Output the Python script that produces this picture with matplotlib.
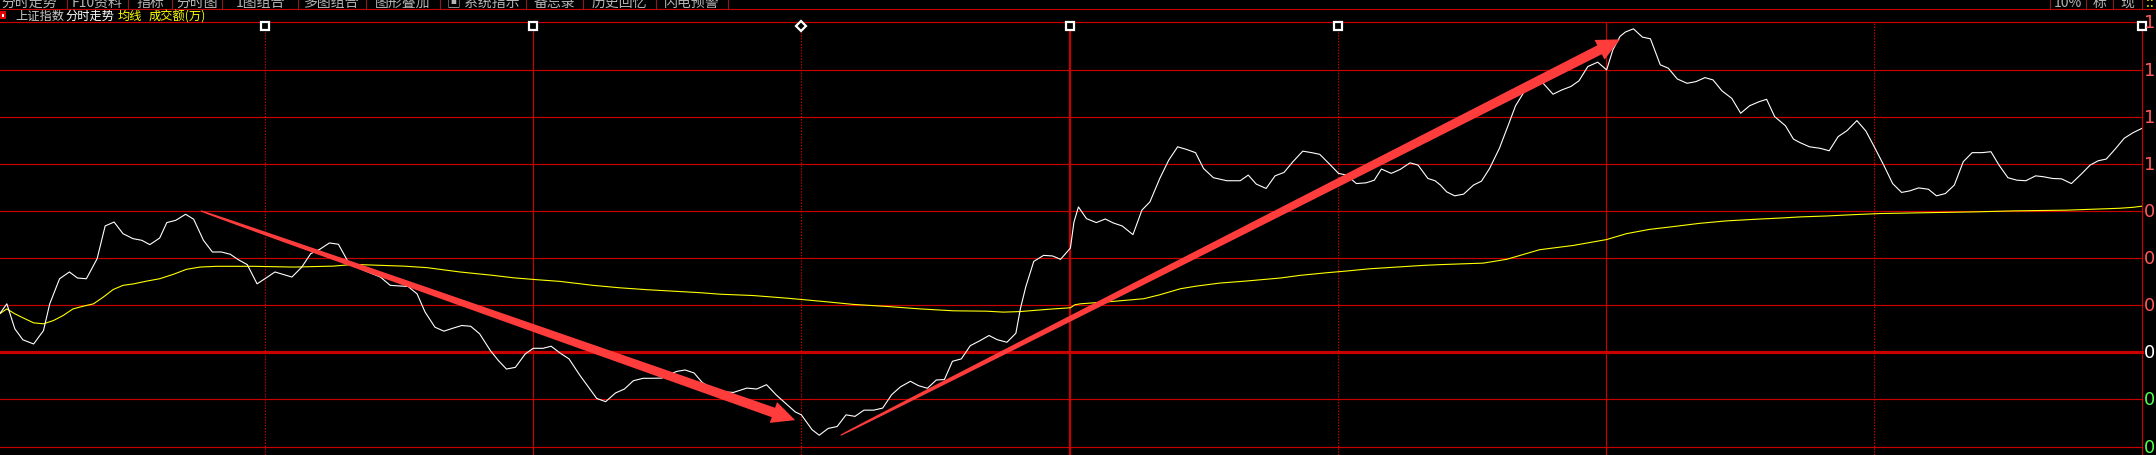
import numpy as np
import matplotlib
matplotlib.use("Agg")
import matplotlib.pyplot as plt
from matplotlib.patches import Polygon, Rectangle
from matplotlib.transforms import IdentityTransform

plt.rcParams['font.family'] = ['Noto Sans CJK SC', 'DejaVu Sans']

# 上证指数 intraday: minutes after 9:30 (lunch break removed) and % change
price_min = [0.3, 1.1, 2.0, 2.9, 4.1, 5.2, 5.9, 7.0, 8.1, 9.0, 10.0, 11.2, 12.1, 13.1, 14.1, 15.2, 16.2, 17.1, 18.2, 19.0,
             20.0, 21.1, 22.0, 23.1, 24.1, 25.1, 26.1, 27.0, 28.0, 29.1, 30.1, 31.1, 32.0, 33.0, 34.1, 35.1, 36.1, 37.2, 38.2, 39.3,
             40.6, 41.7, 42.9, 44.0, 46.0, 47.0, 47.9, 49.0, 50.0, 51.1, 52.0, 53.0, 54.0, 55.2, 56.1, 57.0, 58.0, 59.1, 60.0, 61.1,
             62.0, 63.0, 64.0, 65.2, 66.2, 67.1, 68.1, 69.2, 70.2, 71.2, 72.3, 73.3, 74.4, 75.3, 76.1, 77.0, 78.0, 78.9, 79.8,
             80.9, 82.4, 83.9, 85.0, 86.1, 87.2, 88.4, 89.3, 90.0, 91.2, 92.0, 93.0, 94.0, 95.0, 96.0, 97.0, 98.1, 99.1, 100.1, 101.1,
             102.2, 103.1, 104.1, 105.1, 106.0, 106.9, 107.9, 108.9, 110.0, 111.0, 111.9, 113.0, 114.0, 114.5, 115.1, 116.0, 117.1,
             118.1, 119.0, 120.1, 120.5, 121.0,
             121.9, 123.0, 124.0, 124.9, 125.9, 127.1, 128.1, 129.0, 130.1, 131.1, 132.1, 133.1, 134.1, 135.0, 136.1, 137.6, 139.1,
             140.0, 140.9, 142.0, 143.0, 144.0, 145.0, 146.1, 147.1, 148.0, 149.1, 150.1, 151.0, 152.1, 153.2, 154.1, 154.9, 156.0,
             157.0, 158.1, 159.0, 160.1, 160.9, 161.5,
             162.2, 163.1, 164.1, 165.2, 166.1, 167.0, 168.1, 169.1, 169.9, 171.0, 171.9, 173.0, 174.1, 175.1, 176.1, 177.0, 178.0,
             179.1, 180.1, 180.8, 181.6, 182.2, 183.1, 184.1, 185.0, 186.1, 187.0, 188.0, 189.1, 190.1, 191.1, 192.0, 193.0, 194.1,
             195.1, 196.1, 197.2, 198.0, 198.9, 200.1, 201.0, 201.7,
             202.8, 204.0, 205.0, 206.0, 207.0, 208.1, 209.1, 210.0, 211.1, 212.1, 213.1, 214.0, 215.0, 216.1, 217.0, 218.0, 219.0,
             220.0, 221.0, 222.1, 223.1, 224.0, 225.0, 226.0, 227.0, 228.1, 229.0, 230.0, 231.0, 232.1, 233.2, 234.2, 235.1, 236.0,
             237.0, 238.0, 239.0, 240.0]
price_pct = [0.204, 0.257, 0.124, 0.066, 0.044, 0.115, 0.257, 0.390, 0.426, 0.394, 0.390, 0.496, 0.670, 0.691, 0.629, 0.603,
             0.594, 0.571, 0.606, 0.688, 0.700, 0.732, 0.706, 0.594, 0.532, 0.532, 0.520, 0.491, 0.465, 0.363, 0.394, 0.426,
             0.413, 0.399, 0.452, 0.523, 0.546, 0.580, 0.573, 0.479, 0.443,
             0.422, 0.399, 0.355, 0.349, 0.310, 0.213, 0.133, 0.112, 0.129, 0.142, 0.138, 0.098, 0.009, -0.044, -0.089, -0.080,
             -0.009, 0.021, 0.021, 0.032, -0.004, -0.035, -0.121, -0.186, -0.245, -0.262, -0.216, -0.195, -0.151, -0.138,
             -0.138, -0.137, -0.115, -0.101, -0.094, -0.110, -0.160, -0.186,
             -0.209, -0.213, -0.190, -0.195, -0.172, -0.227, -0.278, -0.316, -0.332, -0.411, -0.440, -0.404, -0.394, -0.332,
             -0.340, -0.307, -0.307, -0.296, -0.225, -0.183, -0.154, -0.177, -0.191, -0.147, -0.145, -0.048, -0.035, 0.035,
             0.062, 0.089, 0.067, 0.053, 0.101, 0.230, 0.346, 0.482, 0.514, 0.511, 0.493, 0.553, 0.691, 0.771,
             0.709, 0.688, 0.707, 0.686, 0.670, 0.624, 0.754, 0.798, 0.922, 1.019, 1.090, 1.076, 1.059, 0.975, 0.926, 0.910,
             0.910, 0.940, 0.892, 0.869, 0.936, 0.954, 1.011, 1.067, 1.059, 1.050, 0.998, 0.949, 0.940, 0.895, 0.899, 0.913,
             0.972, 0.949, 0.970, 1.005, 0.993, 0.922, 0.910, 0.887,
             0.851, 0.830, 0.839, 0.887, 0.908, 0.975, 1.082, 1.206, 1.307, 1.392, 1.436, 1.427, 1.369, 1.392, 1.410, 1.440,
             1.516, 1.539, 1.498, 1.605, 1.676, 1.699, 1.716, 1.672, 1.663, 1.525, 1.507, 1.450, 1.427, 1.436, 1.457, 1.445,
             1.387, 1.347, 1.268, 1.308, 1.330, 1.342, 1.250, 1.202, 1.131, 1.113,
             1.090, 1.082, 1.069, 1.144, 1.176, 1.229, 1.174, 1.094, 0.993, 0.895, 0.848, 0.856, 0.872, 0.865, 0.830, 0.842,
             0.887, 1.011, 1.059, 1.059, 1.064, 0.993, 0.926, 0.913, 0.910, 0.936, 0.931, 0.922, 0.920, 0.895, 0.945, 0.993,
             1.016, 1.025, 1.078, 1.135, 1.165, 1.188]

# 均线 (average price line)
avg_min = [0.3, 1.1, 2.0, 2.9, 4.1, 5.2, 6.3, 7.4, 8.5, 9.7, 10.8, 11.9, 13.0, 14.1, 15.3, 16.8, 18.2, 19.7, 21.2, 22.7,
           24.6, 28.7, 33.2, 37.6, 39.9, 45.5, 48.1, 51.8, 55.5, 57.8, 60.4, 63.0, 66.7, 69.7, 72.7, 76.1, 78.7, 80.9, 84.6, 88.4,
           92.1, 95.8, 99.6, 103.3, 107.0, 110.7, 112.6, 114.5, 116.3, 118.2, 120.1, 120.6, 121.2, 124.9, 128.3, 130.1, 132.4,
           134.2, 136.8, 139.8, 143.6, 145.8, 148.8, 151.0, 153.6, 156.6, 159.6, 161.5, 166.3, 168.9, 172.6, 176.4, 180.1, 182.3,
           184.9, 187.6, 190.5, 193.5, 196.9, 199.9, 201.7, 204.7, 207.7, 210.7, 216.6, 221.5, 225.6, 231.6, 234.6, 237.5, 239.0, 240.0]
avg_pct = [0.204, 0.230, 0.204, 0.183, 0.156, 0.151, 0.168, 0.195, 0.230, 0.245, 0.257, 0.293, 0.333, 0.355, 0.363, 0.378,
           0.390, 0.413, 0.440, 0.452, 0.456, 0.456, 0.452, 0.457, 0.466, 0.457, 0.449, 0.426, 0.408, 0.395, 0.385, 0.376,
           0.355, 0.342, 0.332, 0.323, 0.316, 0.308, 0.301, 0.287, 0.271, 0.254, 0.243, 0.230, 0.220, 0.218, 0.213, 0.216,
           0.223, 0.230, 0.236, 0.252, 0.257, 0.270, 0.284, 0.305, 0.337, 0.351, 0.367, 0.378, 0.394, 0.408, 0.422, 0.431,
           0.443, 0.452, 0.461, 0.465, 0.473, 0.493, 0.544, 0.567, 0.598, 0.629, 0.652, 0.667, 0.684, 0.697, 0.706, 0.713,
           0.718, 0.723, 0.730, 0.736, 0.741, 0.745, 0.750, 0.754, 0.759, 0.764, 0.769, 0.775]

grid_levels = [-0.5, -0.25, 0.0, 0.25, 0.5, 0.75, 1.0, 1.25, 1.5, 1.75]
time_marks = [30, 60, 90, 120, 150, 180, 210]
top_marks = [30, 60, 90, 120, 150, 240]

# hand drawn arrows: (start, tip) in (minute, %)
arrow_down = ((22.8, 0.75), (89.3, -0.36))
arrow_up = ((94.4, -0.44), (181.6, 1.66))

tool_labels = ["分时走势", "F10资料", "指标", "分时图", "1图组合", "多图组合", "图形叠加", "▣ 系统指示", "备忘录", "历史回忆", "闪电预警"]
tool_edges = [-8, 67, 128, 172, 222, 298, 366, 440, 526, 583, 656, 728]
right_labels = ["10%", "标", "现"]
right_edges = [2050, 2086, 2113, 2142]

RED = '#c80000'
W, H = 2156, 456

fig = plt.figure(figsize=(W / 100, H / 100), dpi=100, facecolor='black')


def fx(x):
    return x / W


def fy(y):
    return 1 - y / H


left_px, right_px, top_px = -3, 2142, 23.4
ax = fig.add_axes([fx(left_px), 0, (right_px - left_px) / W, (H - top_px) / H])
ax.set_facecolor('black')
ax.set_xlim(0, 240)
ax.set_ylim(-0.545, 1.75)
ax.set_axis_off()

for lv in grid_levels:
    ax.axhline(lv, color=RED, lw=2.3 if lv == 0 else 0.85, clip_on=False, zorder=1)

for m in time_marks:
    if m == 120:
        ax.axvline(m, color=RED, lw=1.6, zorder=1)
    elif m % 60 == 0:
        ax.axvline(m, color=RED, lw=0.85, zorder=1)
    else:
        ax.axvline(m, color=RED, lw=0.8, ls=(0, (1.3, 1.3)), zorder=1)
ax.axvline(240, color=RED, lw=0.85, clip_on=False, zorder=1)

for m in top_marks:
    ax.plot([m], [1.732], marker='D' if m == 90 else 's', ms=5.5, mfc='black', mec='white', mew=1.6,
            clip_on=False, zorder=6)

ax.plot(avg_min, avg_pct, color='#ffff00', lw=0.8, zorder=3)
ax.plot(price_min, price_pct, color='white', lw=0.8, zorder=4)


def taper_arrow(start, tip, w0=1.2, w1=10.0, head_len=23, head_half=11, color='#ff3c3c'):
    p0 = ax.transData.transform(start)
    p1 = ax.transData.transform(tip)
    d = p1 - p0
    L = np.hypot(*d)
    u = d / L
    n = np.array([-u[1], u[0]])
    base = p1 - u * head_len
    s = np.linspace(0, 1, 80)
    w = w0 + (w1 - w0) * s ** 0.6
    centers = p0 + np.outer(s * (L - head_len), u)
    lft = centers + np.outer(w / 2, n)
    rgt = centers - np.outer(w / 2, n)
    pts = np.vstack([lft, base + n * head_half, p1, base - n * head_half, rgt[::-1]])
    ax.add_patch(Polygon(pts, closed=True, transform=IdentityTransform(), facecolor=color,
                         edgecolor='none', zorder=5))


taper_arrow(*arrow_down)
taper_arrow(*arrow_up)

# right price scale (cut at the picture edge, as in the screenshot)
for lv in grid_levels:
    if lv > 0:
        col = '#ff5a5a'
    elif lv == 0:
        col = 'white'
    else:
        col = '#50ff50'
    ypx = top_px + (1.75 - lv) * (H - top_px) / (1.75 + 0.545)
    fig.text(fx(2143.5), fy(ypx), f"{abs(lv):.2f}%", color=col, fontsize=13, va='center', ha='left',
             family=['Liberation Sans Narrow', 'DejaVu Sans'])

# toolbar (top half cut off)
fig.add_artist(plt.Line2D([0, 1], [fy(10), fy(10)], color=RED, lw=0.8, transform=fig.transFigure))
for lab, a, b in zip(tool_labels, tool_edges[:-1], tool_edges[1:]):
    fig.text(fx((a + b) / 2), fy(3), lab, color='#b4b4b4', fontsize=10, ha='center', va='center')
    fig.add_artist(plt.Line2D([fx(b), fx(b)], [fy(0), fy(10)], color='#8c1c1c', lw=0.8, transform=fig.transFigure))
for lab, a, b in zip(right_labels, right_edges[:-1], right_edges[1:]):
    fig.text(fx((a + b) / 2), fy(3), lab, color='#b4b4b4', fontsize=10, ha='center', va='center')
for e in right_edges:
    fig.add_artist(plt.Line2D([fx(e), fx(e)], [fy(0), fy(10)], color='#8c1c1c', lw=0.8, transform=fig.transFigure))
fig.text(fx(2146), fy(3), "::", color='#ffff00', fontsize=10, ha='left', va='center')

# header line
fig.add_artist(Rectangle((fx(0), fy(20)), 6 / W, 8 / H, facecolor='#e00000', edgecolor='none',
                         transform=fig.transFigure))
fig.add_artist(Rectangle((fx(2), fy(17.5)), 2 / W, 3 / H, facecolor='white', edgecolor='none',
                         transform=fig.transFigure))
fig.text(fx(15), fy(16.5), "上证指数", color='#c8c8c8', fontsize=8.8, ha='left', va='center')
fig.text(fx(65), fy(16.5), "分时走势", color='white', fontsize=8.8, ha='left', va='center')
fig.text(fx(118), fy(16.5), "均线", color='#ffff00', fontsize=8.8, ha='left', va='center')
fig.text(fx(149), fy(16.5), "成交额(万)", color='#ffff00', fontsize=8.8, ha='left', va='center')

fig.savefig("out.png", dpi=100, facecolor='black')
